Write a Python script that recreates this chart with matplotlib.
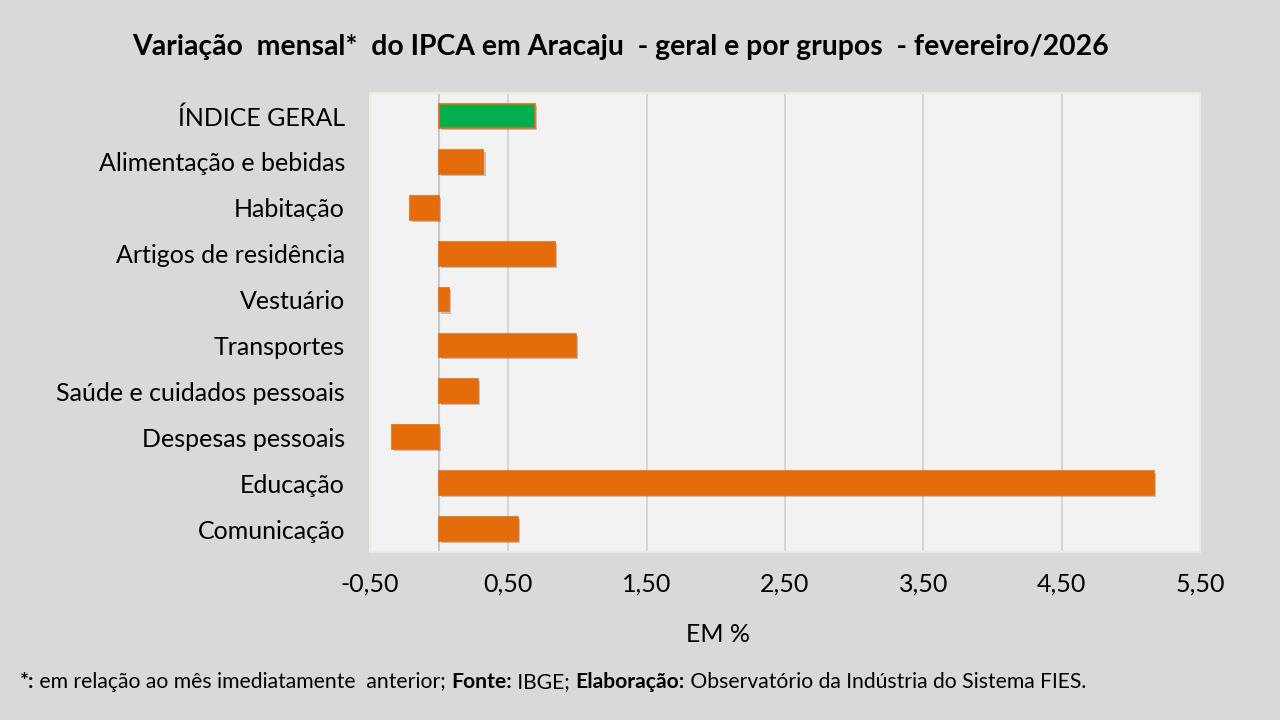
import matplotlib.pyplot as plt
import matplotlib.patheffects as pe
from matplotlib.ticker import FuncFormatter

plt.rcParams['font.family'] = ['Lato', 'DejaVu Sans']

# dados
grupos = ["ÍNDICE GERAL", "Alimentação e bebidas", "Habitação", "Artigos de residência",
          "Vestuário", "Transportes", "Saúde e cuidados pessoais", "Despesas pessoais",
          "Educação", "Comunicação"]
variacao = [0.69, 0.32, -0.21, 0.84, 0.07, 0.99, 0.28, -0.34, 5.17, 0.57]
ticks_x = [-0.5, 0.5, 1.5, 2.5, 3.5, 4.5, 5.5]

titulo = "Variação  mensal*  do IPCA em Aracaju  - geral e por grupos  - fevereiro/2026"
rodape = [("*:", "bold"), (" em relação ao mês imediatamente  anterior; ", "normal"),
          ("Fonte:", "bold"), (" IBGE; ", "normal"), ("Elaboração:", "bold"),
          (" Observatório da Indústria do Sistema FIES.", "normal")]

laranja = "#E46C0A"
verde = "#00B050"
cores = [verde] + [laranja] * (len(grupos) - 1)

fig = plt.figure(figsize=(12.8, 7.2), dpi=100, facecolor="#D9D9D9")
ax = fig.add_axes([370 / 1280, 1 - 552 / 720, 830 / 1280, 459 / 720])
ax.set_facecolor("#F2F2F2")

y = list(range(len(grupos)))
barras = ax.barh(y, variacao, height=0.52, color=cores, zorder=3,
                 edgecolor=laranja, linewidth=1.2)
for b in barras:
    b.set_path_effects([pe.SimplePatchShadow(offset=(1.5, -1.5), alpha=0.25), pe.Normal()])

ax.set_ylim(len(grupos) - 0.5, -0.5)
ax.set_xlim(-0.5, 5.5)
ax.set_xticks(ticks_x)
ax.xaxis.set_major_formatter(FuncFormatter(lambda v, p: f"{v:.2f}".replace(".", ",")))
ax.grid(axis="x", color="#D0D0D0", linewidth=1.2, zorder=0)
ax.axvline(0, color="#C8C8C8", linewidth=1.5, zorder=2)
ax.set_yticks(y)
ax.set_yticklabels(grupos)
ax.tick_params(axis="both", length=0, labelsize=18, colors="#000000")
ax.tick_params(axis="y", pad=18)
ax.tick_params(axis="x", pad=15)
for s in ax.spines.values():
    s.set_color("#EBEBE0")
    s.set_linewidth(1.5)

fig.text(718 / 1280, 1 - 635 / 720, "EM %", ha="center", va="center", fontsize=18)

fig.text(620 / 1280, 1 - 47 / 720, titulo, ha="center", va="center",
         fontsize=20.4, fontweight="bold")

# rodapé com trechos em negrito
fig.canvas.draw()
r = fig.canvas.get_renderer()
x = 20
for txt, peso in rodape:
    t = fig.text(x / 1280, 1 - 682 / 720, txt, ha="left", va="center",
                 fontsize=15.2, fontweight=peso)
    bb = t.get_window_extent(renderer=r)
    x += bb.width

fig.savefig("out.png", dpi=100, facecolor=fig.get_facecolor())
